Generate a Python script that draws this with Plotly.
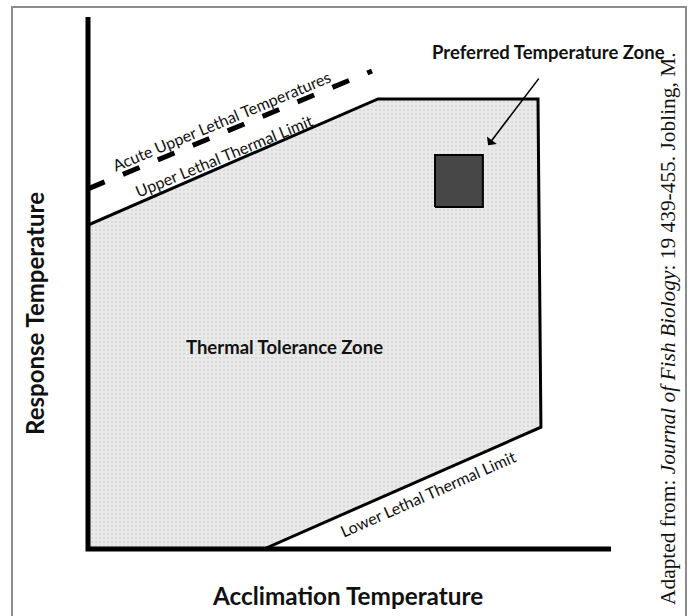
import plotly.graph_objects as go

# ---- data (conceptual units: acclimation temperature x, response temperature y) ----
tolerance_x = [0, 0, 55.45, 86.04, 86.6, 33.65, 0]
tolerance_y = [0, 60.9, 84.6, 84.6, 22.9, 0, 0]

acute_x = [0, 54.3]
acute_y = [67.7, 89.85]

preferred_x = [66.35, 75.5, 75.5, 66.35, 66.35]
preferred_y = [64.3, 64.3, 74.06, 74.06, 64.3]

axis_x = [0, 0, 100]
axis_y = [100, 0, 0]

arrow_tail = (86.4, 88.7)
arrow_head = (76.5, 75.9)

labels = {
    "pref": ("Preferred Temperature Zone", 88.1, 93.4),
    "ttz": ("Thermal Tolerance Zone", 37.5, 38.0),
    "acute": ("Acute Upper Lethal Temperatures", 25.6, 80.6),
    "ultl": ("Upper Lethal Thermal Limit", 26.0, 73.9),
    "lltl": ("Lower Lethal Thermal Limit", 65.0, 10.5),
}

fig = go.Figure()

fig.add_trace(go.Scatter(
    x=tolerance_x, y=tolerance_y, mode="lines", fill="toself",
    fillcolor="#e6e6e6",
    fillpattern=dict(shape=".", bgcolor="#eaeaea", fgcolor="#cacaca", size=4, solidity=0.25),
    line=dict(color="black", width=3), hoverinfo="skip", showlegend=False))

fig.add_trace(go.Scatter(
    x=acute_x, y=acute_y, mode="lines",
    line=dict(color="black", width=5, dash="18px,19.8px"),
    hoverinfo="skip", showlegend=False))

fig.add_trace(go.Scatter(
    x=preferred_x, y=preferred_y, mode="lines", fill="toself",
    fillcolor="#474747", line=dict(color="black", width=2),
    hoverinfo="skip", showlegend=False))

fig.add_trace(go.Scatter(
    x=axis_x, y=axis_y, mode="lines",
    line=dict(color="black", width=5), hoverinfo="skip", showlegend=False))

FONT = "Lato, 'Open Sans', sans-serif"

def lab(key, size, bold=False, angle=0):
    t, x, y = labels[key]
    if bold:
        t = "<b>" + t + "</b>"
    fig.add_annotation(x=x, y=y, xref="x", yref="y", text=t, showarrow=False,
                       xanchor="center", yanchor="middle",
                       textangle=angle, font=dict(family=FONT, size=size, color="#111"))

lab("pref", 18.5, bold=True)
lab("ttz", 18.5, bold=True)
lab("acute", 16, angle=-22.6)
lab("ultl", 16, angle=-22.4)
lab("lltl", 16, angle=-23.8)

fig.add_annotation(x=arrow_head[0], y=arrow_head[1], ax=arrow_tail[0], ay=arrow_tail[1],
                   xref="x", yref="y", axref="x", ayref="y", text="", showarrow=True,
                   arrowhead=1, arrowsize=1.3, arrowwidth=1.6, arrowcolor="black")

fig.add_annotation(x=-0.079, y=0.4457, xref="paper", yref="paper", text="<b>Response Temperature</b>",
                   showarrow=False, textangle=-90, xanchor="center", yanchor="middle",
                   font=dict(family=FONT, size=24, color="#111"))
fig.add_annotation(x=0.4945, y=-0.0652, xref="paper", yref="paper", text="<b>Acclimation Temperature</b>",
                   showarrow=False, xanchor="center", yanchor="middle",
                   font=dict(family=FONT, size=24.3, color="#111"))

fig.add_annotation(x=1.0846, y=0.4185, xref="paper", yref="paper",
                   text="Adapted from: <i>Journal of Fish Biology</i>: 19 439-455. Jobling, M.",
                   showarrow=False, textangle=-90, xanchor="center", yanchor="middle",
                   font=dict(family="'Liberation Serif', 'Times New Roman', serif", size=21.4, color="#111"))

# frame
fig.add_shape(type="rect", xref="paper", yref="paper",
              x0=-0.1213, x1=1.1176, y0=-0.12, y1=1.0018,
              line=dict(color="#8c8c8c", width=2), fillcolor="rgba(0,0,0,0)")

fig.update_layout(
    width=692, height=616,
    margin=dict(l=78, r=70, t=8, b=56),
    paper_bgcolor="white", plot_bgcolor="white",
    xaxis=dict(range=[-1.912, 102.1], visible=False, fixedrange=True),
    yaxis=dict(range=[-2.068, 101.69], visible=False, fixedrange=True),
    showlegend=False,
)

fig.write_html("out.html", config={"displayModeBar": False},
               post_script="document.body.style.margin='0';document.body.style.overflow='hidden';")
